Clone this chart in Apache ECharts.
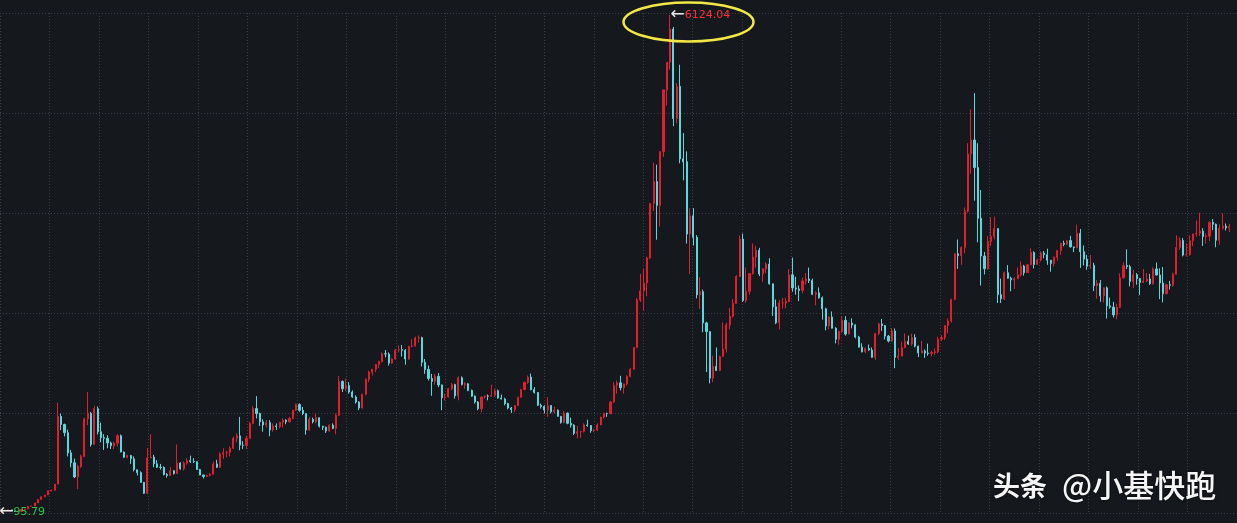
<!DOCTYPE html>
<html>
<head>
<meta charset="utf-8">
<script src="https://cdn.jsdelivr.net/npm/echarts@6/dist/echarts.min.js"></script>
<style>
html,body{margin:0;padding:0;background:#15181d;}
#chart{width:1237px;height:523px;}
</style>
</head>
<body>
<div id="chart"></div>
<script>
// Monthly candles, 1990-12 .. 2021-11 (Shanghai Composite)
const startYear = 1990, startMonth = 12;
const opens = [
96.05,
127.61,129.97,133.62,120.19,113.94,114.83,137.56,145.45,178.43,180.92,218.06,259.60,
292.75,313.24,364.94,370.02,445.34,1265.69,1167.35,1068.03,823.27,703.44,531.93,660.04,
780.39,1236.00,1303.17,925.91,1358.78,1078.72,1007.04,1001.00,943.78,909.97,941.28,1032.45,
833.80,770.23,792.33,753.00,620.00,585.00,467.00,333.92,762.86,772.00,691.00,650.00,
647.87,562.59,549.26,606.37,574.26,700.51,630.66,700.00,730.00,720.00,716.00,622.00,
555.29,537.36,549.83,566.00,690.00,650.00,810.00,825.00,830.00,880.00,1000.00,1030.00,
917.02,914.06,1000.00,1180.00,1360.00,1300.00,1200.00,1160.00,1190.00,1100.00,1150.00,1140.00,
1194,1220,1200,1240,1340,1410,1339,1300,1100,1230,1200,1250,
1146.70,1134,1090,1158,1120,1279,1689,1600,1640,1560,1500,1440,
1366.58,1534,1714,1800,1836,1894,1928,2023,2020,1910,1961,2070,
2073,2065,1960,2112,2119,2214,2218,1920,1834,1724,1690,1750,
1646,1490,1500,1600,1650,1515,1733,1650,1660,1580,1510,1440,
1357.65,1500,1512,1510,1520,1576,1487,1476,1421,1367,1348,1397,
1497,1590,1675,1741,1590,1555,1400,1386,1342,1397,1320,1340,
1266,1191,1306,1181,1160,1060,1080,1083,1162,1155,1092,1099,
1161,1258,1299,1298,1440,1641,1672,1612,1658,1752,1837,2099,
2675,2786,2881,3183,3841,4109,3820,4471,5218,5552,5954,4871,
5261,4383,4348,3472,3693,3433,2736,2775,2397,2293,1728,1871,
1820,1990,2082,2373,2477,2632,2959,3412,2667,2779,2995,3195,
3277,2989,3051,3109,2870,2592,2398,2638,2638,2656,2979,2820,
2808,2790,2905,2928,2911,2743,2762,2701,2567,2359,2468,2333,
2199,2292,2428,2262,2396,2372,2225,2103,2047,2086,2068,1980,
2269,2385,2365,2237,2177,2300,1979,1994,2098,2174,2141,2220,
2116,2033,2056,2033,2026,2039,2048,2201,2217,2364,2420,2683,
3234,3210,3310,3748,4441,4611,4277,3664,3206,3052,3383,3445,
3539,2738,2688,3004,2938,2917,2930,2979,3085,3005,3100,3250,
3104,3159,3242,3223,3155,3117,3192,3273,3361,3349,3393,3317,
3307,3481,3259,3169,3082,3095,2847,2876,2725,2821,2603,2588,
2494,2585,2941,3091,3078,2899,2979,2933,2886,2905,2929,2872,
3050,2977,2880,2750,2860,2852,2985,3310,3396,3218,3225,3392,
3473,3483,3509,3441,3447,3615,3591,3397,3544,3568,3547
];
const closes = [
127.61,
129.97,133.62,120.19,113.94,114.83,137.56,145.45,178.43,180.92,218.06,259.60,292.75,
313.24,364.94,370.02,445.34,1265.69,1167.35,1068.03,823.27,703.44,531.93,660.04,780.39,
1236.00,1303.17,925.91,1358.78,1078.72,1007.04,1001.00,943.78,909.97,941.28,1032.45,833.80,
770.23,792.33,753.00,620.00,585.00,467.00,333.92,762.86,772.00,691.00,650.00,647.87,
562.59,549.26,606.37,574.26,700.51,630.66,700.00,730.00,720.00,716.00,622.00,555.29,
537.36,549.83,566.00,690.00,650.00,810.00,825.00,830.00,880.00,1000.00,1030.00,917.02,
914.06,1000.00,1180.00,1360.00,1300.00,1200.00,1160.00,1190.00,1100.00,1150.00,1140.00,1194.00,
1220,1200,1240,1340,1410,1339,1300,1100,1230,1200,1250,1146.70,
1134,1090,1158,1120,1279,1689,1600,1640,1560,1500,1440,1366.58,
1534,1714,1800,1836,1894,1928,2023,2020,1910,1961,2070,2073,
2065,1960,2112,2119,2214,2218,1920,1834,1724,1690,1750,1646,
1490,1500,1600,1650,1515,1733,1650,1660,1580,1510,1440,1357.65,
1500,1512,1510,1520,1576,1487,1476,1421,1367,1348,1397,1497,
1590,1675,1741,1590,1555,1400,1386,1342,1397,1320,1340,1266,
1191,1306,1181,1160,1060,1080,1083,1162,1155,1092,1099,1161,
1258,1299,1298,1440,1641,1672,1612,1658,1752,1837,2099,2675,
2786,2881,3183,3841,4109,3820,4471,5218,5552,5954,4871,5261,
4383,4348,3472,3693,3433,2736,2775,2397,2293,1728,1871,1820,
1990,2082,2373,2477,2632,2959,3412,2667,2779,2995,3195,3277,
2989,3051,3109,2870,2592,2398,2638,2638,2656,2979,2820,2808,
2790,2905,2928,2911,2743,2762,2701,2567,2359,2468,2333,2199,
2292,2428,2262,2396,2372,2225,2103,2047,2086,2068,1980,2269,
2385,2365,2237,2177,2300,1979,1994,2098,2174,2141,2220,2116,
2033,2056,2033,2026,2039,2048,2201,2217,2364,2420,2683,3234,
3210,3310,3748,4441,4611,4277,3664,3206,3052,3383,3445,3539,
2738,2688,3004,2938,2917,2930,2979,3085,3005,3100,3250,3104,
3159,3242,3223,3155,3117,3192,3273,3361,3349,3393,3317,3307,
3481,3259,3169,3082,3095,2847,2876,2725,2821,2603,2588,2494,
2585,2941,3091,3078,2899,2979,2933,2886,2905,2929,2872,3050,
2977,2880,2750,2860,2852,2985,3310,3396,3218,3225,3392,3473,
3483,3509,3441,3447,3615,3591,3397,3544,3568,3547,3564
];
const highs = [
127.61,
135.19,134.87,134.87,120.50,115.00,137.56,145.50,178.50,181.00,218.10,260.00,293.00,
313.50,366.00,382.00,445.50,1429.01,1300,1178,1105,860,755,680,800,
1250,1558.95,1320,1392.36,1385,1190,1050,1038,960,960,1050,1045,
840,800,800,780,620,600,470,880,1052.94,800,735,690,
660,580,650,615,926.41,710,720,760,790,760,720,630,
560,560,580,720,740,830,880,850,900,1020,1060,1258.69,
965,1030,1200,1390,1510.18,1310,1230,1220,1220,1180,1180,1200,
1240,1230,1260,1340,1420,1422.98,1380,1300,1260,1250,1300,1250,
1150,1140,1170,1180,1300,1756.18,1700,1720,1680,1580,1520,1450,
1535,1725,1820,1840,1900,1940,2040,2070,2040,1970,2080,2125,
2130,2080,2120,2200,2230,2245.44,2230,1960,1880,1780,1780,1790,
1650,1540,1610,1670,1660,1748.89,1750,1680,1670,1590,1520,1450,
1505,1520,1530,1649.60,1600,1590,1530,1490,1430,1380,1400,1500,
1600,1690,1760,1783.01,1620,1560,1420,1400,1496,1400,1380,1350,
1270,1330,1310,1250,1170,1150,1090,1180,1225,1160,1110,1180,
1260,1310,1310,1450,1680,1700,1757,1660,1760,1850,2100,2698,
2990,3049,3200,3850,4335,4311,4471,5218,5552,6124.04,5980,5300,
5522,4695,4473,3786,3786,3460,2952,2800,2411,2293,2000,2100,
2000,2402,2400,2579,2688,2975,3454,3478,3068,3000,3361,3330,
3306,3060,3128,3181,2870,2680,2676,2700,2700,3050,3186,2955,
2850,2944,3000,3067,2933,2780,2826,2717,2580,2480,2536,2345,
2300,2478,2478,2405,2453,2380,2240,2150,2100,2135,2100,2276,
2400,2444,2370,2250,2334,2330,2092,2170,2270,2243,2267,2260,
2120,2180,2076,2146,2061,2087,2230,2248,2367,2450,2684,3239,
3406,3324,3795,4572,4985,5178.19,4572,4006,3256,3450,3678,3684,
3540,2933,3018,3097,2956,2950,3069,3140,3100,3112,3301,3264,
3174,3262,3268,3295,3160,3200,3277,3370,3392,3400,3451,3320,
3587,3534,3335,3220,3219,3125,2915,2916,2827,2838,2703,2652,
2630,2996,3130,3288,3100,3040,3000,2940,3050,3000,2990,3070,
3127,3058,3074,2870,2905,3003,3458,3433,3426,3358,3456,3475,
3637,3731,3544,3480,3626,3654,3600,3590,3723,3600,3595
];
const lows = [
95.79,
127.61,128.00,120.00,113.50,104.96,114.00,136.00,145.00,175.00,180.00,218.00,259.00,
292,313,354,369,445,1098,1022,781,650,520,386.85,640,
770,1160,900,920,1045,952,860,880,870,870,900,830,
760,760,690,600,550,460,325.89,330,760,650,640,620,
550,524.43,545,560,570,620,612,680,700,700,620,555,
512.83,530,540,560,640,640,750,770,780,870,950,855.8,
870,870,990,1170,1240,1150,1080,1130,1025,1080,1100,1120,
1130,1170,1190,1230,1330,1320,1280,1043.02,1090,1180,1180,1130,
1100,1064,1080,1110,1047.83,1270,1560,1570,1540,1490,1420,1341,
1361,1520,1680,1760,1800,1850,1920,1980,1880,1900,1950,2040,
1990,1890,1950,2100,2110,2160,1870,1780,1700,1514,1650,1620,
1339.20,1460,1490,1580,1480,1460,1640,1600,1570,1500,1420,1340,
1311.68,1480,1460,1500,1500,1480,1470,1400,1350,1307,1316,1390,
1490,1580,1660,1580,1540,1390,1360,1300,1260,1300,1300,1260,
1177,1180,1170,1130,1040,998.23,1004,1070,1140,1067,1074,1090,
1160,1240,1260,1290,1430,1540,1580,1541,1640,1740,1830,2090,
2650,2541,2720,3170,3750,3404,3563,4406,5030,5462,4778,4812,
4330,4123,3357,2990,3333,2693,2566,2284,1802,1664.93,1678,1814,
1814,1990,2037,2321,2461,2630,2950,2650,2639,2740,2980,3065,
2963,2890,2997,2860,2481,2382,2319,2570,2573,2650,2774,2739,
2661,2754,2861,2880,2734,2610,2690,2437,2307,2319,2330,2149,
2132,2277,2242,2260,2330,2210,2100,2040,2029,2059,1974,1949,
2250,2300,2196,2161,2170,1849,1950,1993,2090,2130,2120,2100,
1984,2030,1974,2000,1991,2010,2030,2180,2190,2270,2400,2670,
3050,3100,3240,3730,4200,3876,3373,2850,2983,3040,3327,3408,
2638,2638.3,2673,2932,2780,2807,2929,2960,2969,3005,3097,3056,
3100,3140,3180,3100,3017,3080,3150,3220,3326,3340,3310,3254,
3300,3063,3092,3041,3050,2782,2691,2653,2644,2449,2568,2463,
2440,2580,2940,3050,2838,2822,2860,2733,2882,2891,2857,2860,
2970,2685,2646,2743,2802,2835,2984,3283,3202,3200,3209,3325,
3441,3450,3328,3357,3387,3520,3312,3343,3525,3515,3498
];
const peakLabel = '6124.04';
const lowLabel = '95.79';

const months = [];
for (let i = 0; i < closes.length; i++) {
  const m = startMonth - 1 + i;
  const y = startYear + Math.floor(m / 12);
  const mm = (m % 12) + 1;
  months.push(y + '-' + (mm < 10 ? '0' + mm : mm));
}
const candles = closes.map((c, i) => [opens[i], c, lows[i], highs[i]]);
const iMax = highs.indexOf(Math.max(...highs));
const iMin = lows.indexOf(Math.min(...lows));

const RED = '#e11d2e', CYAN = '#55d8de', GRID = '#3a3e46';
const arrowStyle = {color: '#e8e8e8', fontSize: 17, fontFamily: 'DejaVu Sans', verticalAlign: 'middle', lineHeight: 14};
const chart = echarts.init(document.getElementById('chart'));
chart.setOption({
  backgroundColor: '#15181d',
  animation: false,
  grid: [
    {left: 0, right: 6, top: 15, bottom: 10},
    {left: -3.6, top: 13, width: 1252.5, height: 500}
  ],
  xAxis: [
    {type: 'category', gridIndex: 0, data: months, boundaryGap: true,
     axisLine: {show: false}, axisTick: {show: false}, axisLabel: {show: false}, splitLine: {show: false}},
    {type: 'value', gridIndex: 1, min: 0, max: 25, interval: 1,
     axisLine: {show: false}, axisTick: {show: false}, axisLabel: {show: false},
     splitLine: {show: true, lineStyle: {color: GRID, type: [1, 2], width: 1}}}
  ],
  yAxis: [
    {type: 'value', gridIndex: 0, min: 95.79, max: 6124.04,
     axisLine: {show: false}, axisTick: {show: false}, axisLabel: {show: false}, splitLine: {show: false}},
    {type: 'value', gridIndex: 1, min: 0, max: 5, interval: 1,
     axisLine: {show: false}, axisTick: {show: false}, axisLabel: {show: false},
     splitLine: {show: true, lineStyle: {color: GRID, type: [1, 2], width: 1}}}
  ],
  series: [{
    type: 'candlestick',
    xAxisIndex: 0, yAxisIndex: 0,
    data: candles,
    barWidth: 1.6,
    itemStyle: {color: RED, color0: CYAN, borderColor: RED, borderColor0: CYAN, borderWidth: 1},
    markPoint: {
      symbol: 'circle', symbolSize: 1,
      itemStyle: {color: 'rgba(0,0,0,0)'},
      data: [
        {coord: [months[iMax], highs[iMax]],
         label: {show: true, position: 'right', distance: 0, offset: [0, 0],
                 formatter: '{a|←}{b|' + peakLabel + '}',
                 rich: {a: arrowStyle,
                        b: {color: '#ff2f3a', fontSize: 11, fontFamily: 'DejaVu Sans', verticalAlign: 'middle', lineHeight: 14}}}},
        {coord: [months[iMin], lows[iMin]],
         label: {show: true, position: 'right', distance: 0, offset: [-3, -1],
                 formatter: '{a|←}{b|' + lowLabel + '}',
                 rich: {a: arrowStyle,
                        b: {color: '#2fc44c', fontSize: 11, fontFamily: 'DejaVu Sans', verticalAlign: 'middle', lineHeight: 14}}}}
      ]
    }
  }],
  graphic: [
    {type: 'ellipse', z: 100, shape: {cx: 688.5, cy: 22, rx: 65, ry: 19.5},
     style: {fill: 'none', stroke: '#f2e744', lineWidth: 2.5}},
    {type: 'text', z: 100, left: 993, top: 472,
     style: {text: '头条', fill: '#f5f5f5', font: 'bold 27px "Noto Sans CJK SC"',
             textShadowColor: 'rgba(0,0,0,0.7)', textShadowBlur: 3}},
    {type: 'text', z: 100, left: 1062, top: 470,
     style: {text: '@小基快跑', fill: '#f5f5f5', font: '500 31px "Noto Sans CJK SC"',
             textShadowColor: 'rgba(0,0,0,0.7)', textShadowBlur: 3}}
  ]
});
</script>
</body>
</html>
